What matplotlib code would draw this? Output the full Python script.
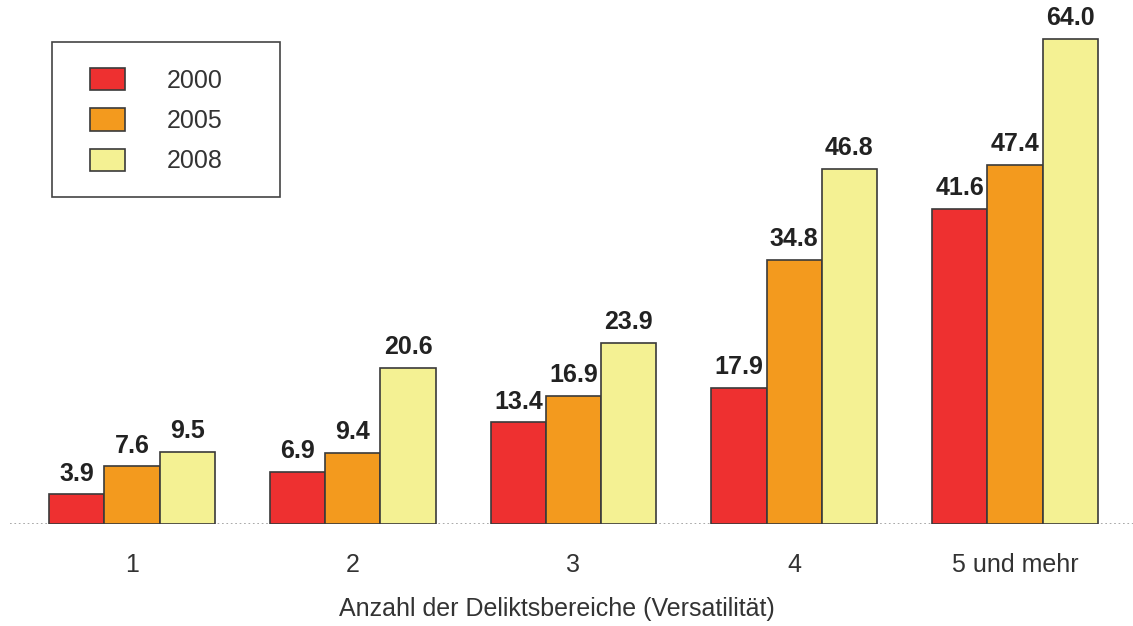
import matplotlib.pyplot as plt
import matplotlib.patches as mpatches
import numpy as np

plt.rcParams['font.family'] = ['Liberation Sans', 'DejaVu Sans']

categories = ['1', '2', '3', '4', '5 und mehr']
years = ['2000', '2005', '2008']
v2000 = [3.9, 6.9, 13.4, 17.9, 41.6]
v2005 = [7.6, 9.4, 16.9, 34.8, 47.4]
v2008 = [9.5, 20.6, 23.9, 46.8, 64.0]
colors = ['#EE3030', '#F39A1E', '#F4F193']

W, H = 1133, 626
fs = 18
fig = plt.figure(figsize=(W / 100, H / 100), dpi=100)
# axes from x=10px to right edge, baseline at y=524px
ax = fig.add_axes([10 / W, 1 - 524 / H, 1 - 10 / W, 524 / H])

x = np.arange(len(categories))
w = 0.25
for i, vals in enumerate([v2000, v2005, v2008]):
    bars = ax.bar(x + (i - 1) * w, vals, width=w, color=colors[i],
                  edgecolor='#3a3a3a', linewidth=1.2, zorder=3)
    for b, v in zip(bars, vals):
        ax.annotate(f'{v:.1f}', (b.get_x() + b.get_width() / 2, v),
                    xytext=(0, 10), textcoords='offset points',
                    ha='center', va='baseline', fontsize=fs,
                    fontweight='bold', color='#222222')

ax.axhline(0, color='#999999', linestyle=':', linewidth=1.2, zorder=1)
ax.set_xlim(-0.553, 4.535)
ax.set_ylim(0, 524 / 7.58)
ax.set_xticks(x)
ax.set_xticklabels(categories, fontsize=fs, color='#333333')
ax.tick_params(axis='x', length=0, pad=21)
ax.set_yticks([])
for s in ax.spines.values():
    s.set_visible(False)
ax.set_xlabel('Anzahl der Deliktsbereiche (Versatilität)', fontsize=fs,
              color='#333333')
ax.xaxis.set_label_coords((557 - 10) / (W - 10), (524 - 597) / 524)

# legend
handles = [mpatches.Patch(facecolor=c, edgecolor='#3a3a3a', linewidth=1.2) for c in colors]
leg = fig.legend(handles, years, loc='upper left',
                 bbox_to_anchor=(90 / W, 1 - 68 / H), frameon=False,
                 fontsize=fs, handlelength=1.4, handleheight=1.0,
                 labelspacing=0.62, handletextpad=1.65, borderpad=0,
                 borderaxespad=0, labelcolor='#333333')
fig.patches.append(mpatches.Rectangle((52 / W, 1 - 197 / H), 228 / W, 155 / H,
                                      transform=fig.transFigure, fill=False,
                                      edgecolor='#444444', linewidth=1.2))

fig.savefig('out.png', dpi=100)
